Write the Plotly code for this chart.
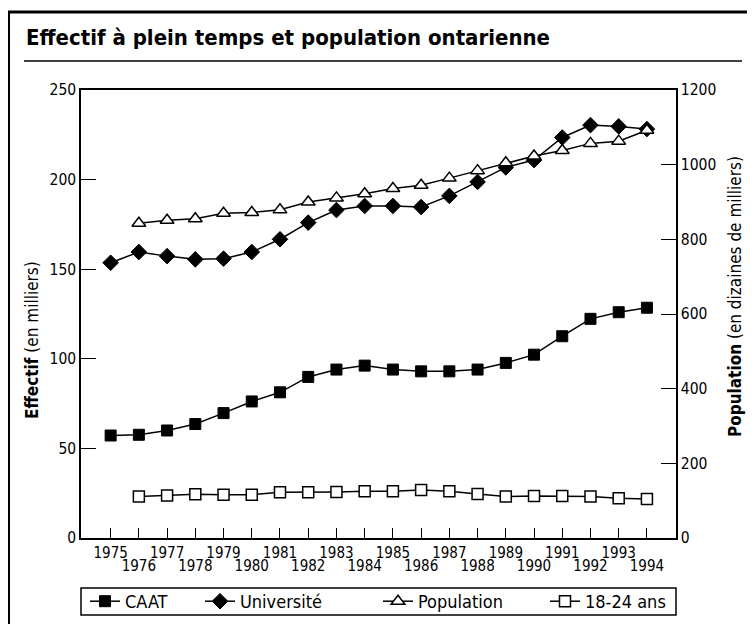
import plotly.graph_objects as go

# ---------------- data ----------------
years = list(range(1975, 1995))
caat = [57.2, 57.6, 60.0, 63.6, 69.7, 76.2, 81.3, 89.9, 94.0, 96.2,
        94.0, 93.0, 93.0, 94.0, 97.7, 102.3, 112.6, 122.3, 126.0, 128.5]
universite = [153.6, 159.6, 157.3, 155.5, 155.9, 159.6, 166.7, 176.0, 183.0, 185.3,
              185.3, 184.7, 190.9, 198.7, 206.8, 210.9, 223.5, 230.4, 229.7, 228.2]
pop_years = list(range(1976, 1995))
population = [843, 851, 855, 870, 872, 879, 900, 911, 922, 936,
              945, 964, 984, 1005, 1023, 1038, 1057, 1063, 1092]
jeunes = [111, 113.6, 117.3, 116, 116, 122.6, 122.6, 123.5, 125.3, 125.3,
          128.9, 125.3, 118, 111, 112.8, 112.8, 111, 106.6, 104.7]

even_years = [y for y in years if y % 2 == 0]
left_ticks = [0, 50, 100, 150, 200, 250]
right_ticks = [0, 200, 400, 600, 800, 1000, 1200]

title_text = "Effectif à plein temps et population ontarienne"
left_title = "<b>Effectif</b> (en milliers)"
right_title = "<b>Population</b> (en dizaines de milliers)"

# ---------------- geometry helpers (window px -> figure) ----------------
W, H = 755, 624
OFF = 8  # page body margin
L, R, T, B = 81 - OFF, 676 - OFF, 90 - OFF, 538 - OFF


def px(x):
    return (x - OFF - L) / (R - L)


def py(y):
    return (B - (y - OFF)) / (B - T)


def cx(x):
    return (x - OFF) / W


def cy(y):
    return 1 - (y - OFF) / H


FONT = "DejaVu Sans Condensed, DejaVu Sans, sans-serif"
BLACK = "black"

fig = go.Figure()
fig.add_trace(go.Scatter(
    x=years, y=caat, name="CAAT", mode="lines+markers",
    line=dict(color=BLACK, width=1.5),
    marker=dict(symbol="square", size=11, color=BLACK, line=dict(color=BLACK, width=1)),
    xaxis="x", yaxis="y", legend="legend"))
fig.add_trace(go.Scatter(
    x=years, y=universite, name="Université", mode="lines+markers",
    line=dict(color=BLACK, width=1.5),
    marker=dict(symbol="diamond", size=12, color=BLACK, line=dict(color=BLACK, width=1)),
    xaxis="x", yaxis="y", legend="legend2"))
fig.add_trace(go.Scatter(
    x=pop_years, y=population, name="Population", mode="lines+markers",
    line=dict(color=BLACK, width=1.5),
    marker=dict(symbol="triangle-up", size=12, color="white", line=dict(color=BLACK, width=1.5)),
    xaxis="x2", yaxis="y2", legend="legend3"))
fig.add_trace(go.Scatter(
    x=pop_years, y=jeunes, name="18-24 ans", mode="lines+markers",
    line=dict(color=BLACK, width=1.5),
    marker=dict(symbol="square", size=11, color="white", line=dict(color=BLACK, width=1.5)),
    xaxis="x2", yaxis="y2", legend="legend4"))

xr = [1973.95, 1995.03]
common_axis = dict(showgrid=False, zeroline=False, linecolor=BLACK, linewidth=1.5,
                   tickcolor=BLACK, tickwidth=1.2)

leg_common = dict(orientation="h", yanchor="middle", xanchor="left",
                  xref="container", yref="container", y=cy(601.5),
                  bgcolor="rgba(0,0,0,0)", borderwidth=0,
                  font=dict(family=FONT, size=18, color=BLACK))

fig.update_layout(
    width=W, height=H, autosize=False,
    margin=dict(l=L, r=W - R, t=T, b=H - B, autoexpand=False),
    paper_bgcolor="white", plot_bgcolor="white",
    font=dict(family=FONT, color=BLACK),
    xaxis=dict(range=xr, tickvals=years,
               ticktext=[str(y) if y % 2 == 1 else "" for y in years],
               ticks="inside", ticklen=10, showline=True, mirror=True,
               tickfont=dict(size=15), **common_axis),
    xaxis2=dict(range=xr, overlaying="x", anchor="y2", side="bottom",
                tickvals=even_years, ticktext=[str(y) for y in even_years],
                ticks="", showline=False, ticklabelstandoff=17,
                tickfont=dict(size=15), showgrid=False, zeroline=False),
    yaxis=dict(range=[0, 250], tickvals=left_ticks, ticks="inside", ticklen=15,
               showline=True, tickfont=dict(size=15.5), **common_axis),
    yaxis2=dict(range=[0, 1200], tickvals=right_ticks, ticks="inside", ticklen=15,
                side="right", overlaying="y", anchor="x2", showline=True,
                tickfont=dict(size=15.5), **common_axis),
    showlegend=True,
    legend=dict(x=cx(105 - 20), **leg_common),
    legend2=dict(x=cx(220 - 20), **leg_common),
    legend3=dict(x=cx(398 - 20), **leg_common),
    legend4=dict(x=cx(565 - 20), **leg_common),
    shapes=[
        dict(type="rect", xref="paper", yref="paper", x0=px(81), x1=px(676),
             y0=py(615), y1=py(588), line=dict(color=BLACK, width=1.5)),
        dict(type="line", xref="paper", yref="paper", x0=px(24), x1=px(742),
             y0=py(61), y1=py(61), line=dict(color=BLACK, width=1.5)),
        dict(type="rect", xref="paper", yref="paper", x0=px(8.5), x1=px(790),
             y0=py(700), y1=py(12), line=dict(color=BLACK, width=3)),
    ],
    annotations=[
        dict(text="<b>" + title_text + "</b>", xref="paper", yref="paper",
             x=px(24), y=py(38), xanchor="left", yanchor="middle", showarrow=False,
             font=dict(family=FONT, size=22, color=BLACK)),
        dict(text=left_title, xref="paper", yref="paper", textangle=-90,
             x=px(32), y=py(340), xanchor="center", yanchor="middle", showarrow=False,
             font=dict(family=FONT, size=17, color=BLACK)),
        dict(text=right_title, xref="paper", yref="paper", textangle=-90,
             x=px(735), y=py(297), xanchor="center", yanchor="middle", showarrow=False,
             font=dict(family=FONT, size=17, color=BLACK)),
    ],
)

fig.write_html("out.html")
